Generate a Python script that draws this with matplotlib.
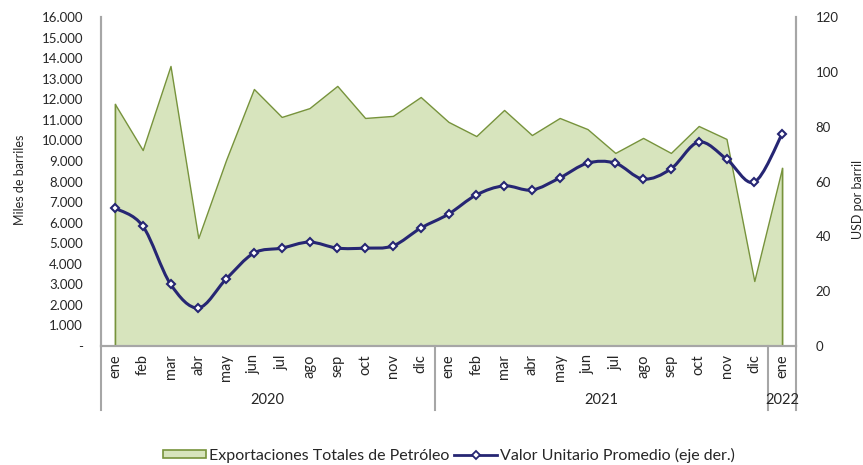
import numpy as np
import matplotlib.pyplot as plt
from matplotlib.path import Path
from matplotlib.patches import PathPatch, Patch
from matplotlib.lines import Line2D
import matplotlib.transforms as mtransforms

plt.rcParams["font.family"] = ["Lato", "DejaVu Sans"]

months = ["ene", "feb", "mar", "abr", "may", "jun", "jul", "ago", "sep", "oct", "nov", "dic"] * 2 + ["ene"]
years = ["2020", "2021", "2022"]
year_len = [12, 12, 1]

# miles de barriles
exports = [11770, 9530, 13620, 5250, 9050, 12500, 11140, 11570, 12650, 11090, 11190, 12110,
           10900, 10210, 11480, 10260, 11090, 10550, 9390, 10120, 9390, 10700, 10070, 3160, 8660]
# USD por barril
unit_value = [50.3, 43.8, 22.6, 13.9, 24.4, 33.9, 35.7, 37.9, 35.7, 35.7, 36.5, 43.0,
              48.1, 55.1, 58.4, 56.9, 61.3, 66.7, 66.7, 60.9, 64.6, 74.4, 68.2, 59.8, 77.3]

left_ticks = [0, 1000, 2000, 3000, 4000, 5000, 6000, 7000, 8000, 9000, 10000, 11000, 12000,
              13000, 14000, 15000, 16000]
right_ticks = [0, 20, 40, 60, 80, 100, 120]

GREEN_FILL = "#D7E4BD"
GREEN_EDGE = "#77933C"
NAVY = "#262673"
GRAY = "#A6A6A6"
TXT = "#262626"

fig = plt.figure(figsize=(8.63, 4.65), dpi=100)
ax = fig.add_axes([101 / 863, 1 - 346 / 465, 695 / 863, 329 / 465])
ax2 = ax.twinx()

x = np.arange(len(exports))
ax.fill_between(x, exports, 0, facecolor=GREEN_FILL, edgecolor=GREEN_EDGE, linewidth=1.0)
ax.plot([x[0], x[0]], [0, exports[0]], color=GREEN_EDGE, lw=1.0)
ax.plot([x[-1], x[-1]], [0, exports[-1]], color=GREEN_EDGE, lw=1.0)

# smoothed line (Excel style bezier through the points)
pts = np.column_stack([x, unit_value]).astype(float)
ext = np.vstack([pts[0], pts, pts[-1]])
verts = [tuple(pts[0])]
codes = [Path.MOVETO]
for i in range(len(pts) - 1):
    p0, p1, p2, p3 = ext[i], ext[i + 1], ext[i + 2], ext[i + 3]
    c1 = p1 + (p2 - p0) / 6
    c2 = p2 - (p3 - p1) / 6
    verts += [tuple(c1), tuple(c2), tuple(p2)]
    codes += [Path.CURVE4] * 3
ax2.add_patch(PathPatch(Path(verts, codes), facecolor="none", edgecolor=NAVY, lw=2.2, zorder=3))
ax2.plot(x, unit_value, ls="none", marker="D", ms=4.5, mfc="white", mec=NAVY, mew=1.5, zorder=4)

ax.set_xlim(-0.5, len(exports) - 0.5)
ax.set_ylim(0, 16000)
ax2.set_ylim(0, 120)

ax.set_yticks(left_ticks)
ax.set_yticklabels(["-"] + [f"{v:,}".replace(",", ".") for v in left_ticks[1:]])
ax2.set_yticks(right_ticks)
ax.tick_params(axis="y", length=0, pad=13, labelsize=9.5, labelcolor=TXT)
ax2.tick_params(axis="y", length=0, pad=14, labelsize=9.5, labelcolor=TXT)

ax.set_xticks(x)
ax.set_xticklabels(months, rotation=90, fontsize=10.5, color=TXT)
ax.tick_params(axis="x", length=0, pad=6)

for a in (ax, ax2):
    a.spines["top"].set_visible(False)
    for s in ("left", "right", "bottom"):
        a.spines[s].set_color(GRAY)
        a.spines[s].set_linewidth(1.5)

# category group separators and year labels
trans = mtransforms.blended_transform_factory(ax.transData, ax.transAxes)
low = -64 / 329
start = 0
bounds = [-0.5]
for yr, n in zip(years, year_len):
    bounds.append(start + n - 0.5)
    ax.text(start + (n - 1) / 2, -54 / 329, yr, transform=trans, ha="center", va="center",
            fontsize=10.5, color=TXT)
    start += n
for b in bounds:
    ax.plot([b, b], [0, low], transform=trans, color=GRAY, lw=1.5, clip_on=False)

fig.text(20 / 863, 1 - 180 / 465, "Miles de barriles", rotation=90, ha="center", va="center",
         fontsize=9, color=TXT)
fig.text(858 / 863, 1 - 199 / 465, "USD por barril", rotation=90, ha="center", va="center",
         fontsize=9, color=TXT)

handles = [Patch(facecolor=GREEN_FILL, edgecolor=GREEN_EDGE, lw=1.2),
           Line2D([], [], color=NAVY, lw=2, marker="D", ms=4, mfc="white", mec=NAVY, mew=1.3)]
fig.legend(handles, ["Exportaciones Totales de Petróleo", "Valor Unitario Promedio (eje der.)"],
           loc="center", bbox_to_anchor=(449 / 863, 1 - 455 / 465), ncol=2, frameon=False,
           fontsize=11.5, handlelength=2.7, handleheight=0.45, handletextpad=0.2,
           columnspacing=0.3, labelcolor=TXT)

fig.savefig("out.png", dpi=100)
